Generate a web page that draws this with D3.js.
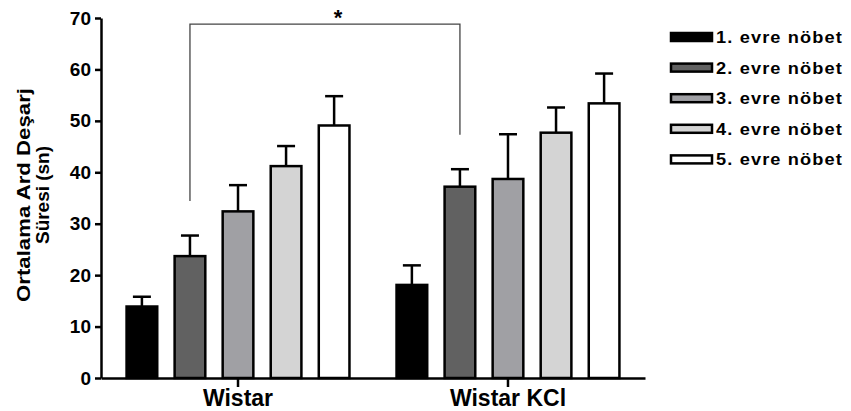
<!DOCTYPE html>
<html>
<head>
<meta charset="utf-8">
<script src="https://cdn.jsdelivr.net/npm/d3@7"></script>
<style>
  body { margin: 0; background: #fff; }
  svg { display: block; font-family: Arial, "Liberation Sans", sans-serif; font-weight: bold; }
</style>
</head>
<body>
<div id="container"></div>
<script>
// data
const groups = ["Wistar", "Wistar KCl"];
const series = ["1. evre nöbet", "2. evre nöbet", "3. evre nöbet", "4. evre nöbet", "5. evre nöbet"];
const wistarMeans = [13.9, 23.7, 32.4, 41.2, 49.1];
const wistarErr = [1.9, 4.0, 5.1, 3.9, 5.7];
const kclMeans = [18.1, 37.2, 38.7, 47.7, 53.4];
const kclErr = [3.8, 3.4, 8.7, 4.9, 5.8];
const yTicks = [0, 10, 20, 30, 40, 50, 60, 70];
const colors = ["#000000", "#616161", "#a0a0a4", "#d4d4d4", "#ffffff"];

const means = [wistarMeans, kclMeans];
const errs = [wistarErr, kclErr];
const data = [];
groups.forEach((g, gi) => {
    series.forEach((s, si) => {
        data.push({ group: g, series: s, idx: si, mean: means[gi][si], err: errs[gi][si] });
    });
});

const width = 851, height = 411;

const svg = d3.select("#container").append("svg")
    .attr("width", width)
    .attr("height", height);

const y = d3.scaleLinear()
    .domain([0, 70])
    .range([378, 18]);

const x0 = d3.scaleBand()
    .domain(groups)
    .range([101, 645])
    .paddingInner(0.167)
    .paddingOuter(0.091);

const x1 = d3.scaleBand()
    .domain(series)
    .range([0, x0.bandwidth()])
    .paddingInner(0.32)
    .paddingOuter(0);

// bars
const bar = svg.append("g")
    .selectAll("g")
    .data(data)
    .enter().append("g")
    .attr("transform", d => `translate(${x0(d.group) + x1(d.series)},0)`);

// error bars (upper only)
bar.append("line")
    .attr("x1", x1.bandwidth() / 2)
    .attr("x2", x1.bandwidth() / 2)
    .attr("y1", d => y(d.mean))
    .attr("y2", d => y(d.mean + d.err))
    .attr("stroke", "#000")
    .attr("stroke-width", 2.5);

bar.append("line")
    .attr("x1", x1.bandwidth() / 2 - 9)
    .attr("x2", x1.bandwidth() / 2 + 9)
    .attr("y1", d => y(d.mean + d.err))
    .attr("y2", d => y(d.mean + d.err))
    .attr("stroke", "#000")
    .attr("stroke-width", 2.5);

bar.append("rect")
    .attr("x", 1)
    .attr("width", x1.bandwidth() - 2)
    .attr("y", d => y(d.mean))
    .attr("height", d => y(0) - y(d.mean))
    .attr("fill", d => colors[d.idx])
    .attr("stroke", "#000")
    .attr("stroke-width", 2.5);

// axes
const yAxis = svg.append("g")
    .attr("transform", "translate(101,0)")
    .call(d3.axisLeft(y).tickValues(yTicks).tickSize(6).tickSizeOuter(0).tickPadding(4));

yAxis.selectAll("text")
    .attr("font-size", 19)
    .attr("font-weight", "bold")
    .attr("font-family", "Arial, 'Liberation Sans', sans-serif")
    .attr("fill", "#000");

const xAxis = svg.append("g")
    .attr("transform", "translate(0,378)")
    .call(d3.axisBottom(x0).tickSize(9).tickSizeOuter(0).tickPadding(3));

xAxis.selectAll("text")
    .attr("font-size", 23)
    .attr("font-weight", "bold")
    .attr("font-family", "Arial, 'Liberation Sans', sans-serif")
    .attr("fill", "#000");

svg.selectAll(".domain, .tick line")
    .attr("stroke", "#000")
    .attr("stroke-width", 2.5);

// y axis title (stretched along its length like the reference)
const title = svg.append("g")
    .attr("transform", "translate(0,195) rotate(-90)");

title.append("text")
    .attr("x", -107).attr("y", 29.5)
    .attr("font-size", 19)
    .attr("textLength", 214)
    .attr("lengthAdjust", "spacingAndGlyphs")
    .text("Ortalama Ard Deşarj");

title.append("text")
    .attr("x", -49).attr("y", 49)
    .attr("font-size", 19)
    .attr("textLength", 98)
    .attr("lengthAdjust", "spacingAndGlyphs")
    .text("Süresi (sn)");

// significance bracket between 2nd bars
const bx1 = x0("Wistar") + x1(series[1]) + x1.bandwidth() / 2;
const bx2 = x0("Wistar KCl") + x1(series[1]) + x1.bandwidth() / 2;
const by = y(68.8);

svg.append("path")
    .attr("d", `M${bx1},${y(34.4)}V${by}H${bx2}V${y(47.3)}`)
    .attr("fill", "none")
    .attr("stroke", "#444")
    .attr("stroke-width", 1.3);

svg.append("text")
    .attr("x", (bx1 + bx2) / 2 + 13)
    .attr("y", 25)
    .attr("text-anchor", "middle")
    .attr("font-size", 22)
    .text("*");

// legend
const legend = svg.append("g")
    .selectAll("g")
    .data(series)
    .enter().append("g")
    .attr("transform", (d, i) => `translate(670,${37 + i * 30.6})`);

legend.append("rect")
    .attr("x", 1)
    .attr("y", -4)
    .attr("width", 41)
    .attr("height", 8)
    .attr("fill", (d, i) => colors[i])
    .attr("stroke", "#000")
    .attr("stroke-width", 2.5);

legend.append("text")
    .attr("x", 46)
    .attr("y", 6)
    .attr("font-size", 16)
    .attr("letter-spacing", 1)
    .attr("textLength", 127)
    .attr("lengthAdjust", "spacingAndGlyphs")
    .text(d => d);
</script>
</body>
</html>
